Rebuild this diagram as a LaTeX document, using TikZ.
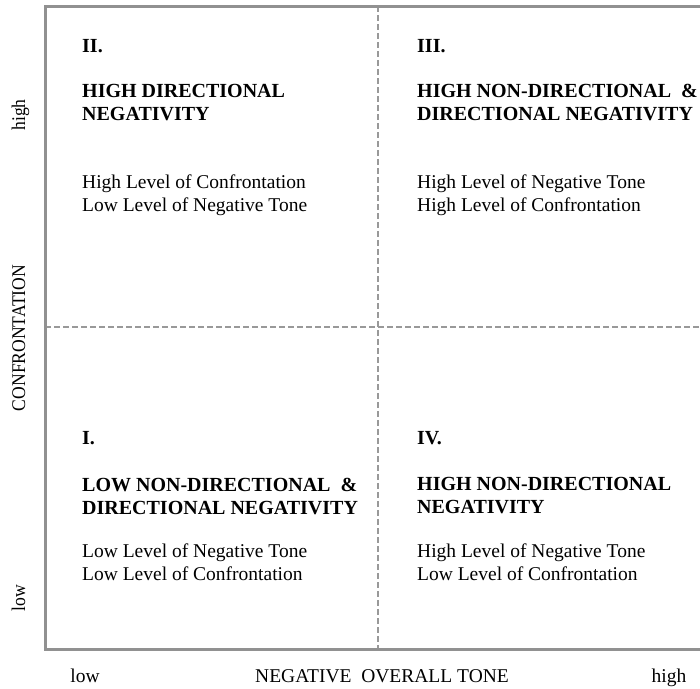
\documentclass[tikz,border=0pt]{standalone}
\usepackage{fontspec}
\setmainfont{Liberation Serif}
\begin{document}
\begin{tikzpicture}[x=1pt,y=-1pt,
  frameline/.style={draw=black!43, line width=3pt},
  gridline/.style={draw=black!40, line width=1.6pt, dash pattern=on 6pt off 3pt},
  num/.style={anchor=base west, inner sep=0pt, font=\fontsize{20}{23}\selectfont\bfseries},
  head/.style={anchor=base west, inner sep=0pt, font=\fontsize{20}{23}\selectfont\bfseries, align=left},
  desc/.style={anchor=base west, inner sep=0pt, font=\fontsize{19.5}{23}\selectfont, align=left},
  axis/.style={anchor=base, inner sep=0pt, font=\fontsize{19.5}{22}\selectfont},
  vaxis/.style={anchor=base, inner sep=0pt, rotate=90, font=\fontsize{17.6}{22}\selectfont}]
\useasboundingbox (0,0) rectangle (700,688);
\coordinate (tl) at (45,6);
\coordinate (tr) at (700,6);
\coordinate (bl) at (45,649);
\coordinate (br) at (700,649);
\coordinate (vt) at (378,6);
\coordinate (vb) at (378,649);
\coordinate (hl) at (45,327);
\coordinate (hr) at (700,327);
\draw[gridline] (vt) -- (vb);
\draw[gridline] (hl) -- (hr);
\draw[frameline] (tr) -- (tl) -- (bl) -- (br);
% quadrant II
\node[num] (n2) at (82,52) {II.};
\node[head] (h2a) at (82,97) {HIGH DIRECTIONAL};
\node[head] (h2b) at (82,120) {NEGATIVITY};
\node[desc] (d2a) at (82,188) {High Level of Confrontation};
\node[desc] (d2b) at (82,211) {Low Level of Negative Tone};
% quadrant III
\node[num] (n3) at (417,52) {III.};
\node[head] (h3a) at (417,97) {HIGH NON-DIRECTIONAL \ \&};
\node[head] (h3b) at (417,120) {DIRECTIONAL NEGATIVITY};
\node[desc] (d3a) at (417,188) {High Level of Negative Tone};
\node[desc] (d3b) at (417,211) {High Level of Confrontation};
% quadrant I
\node[num] (n1) at (82,444) {I.};
\node[head] (h1a) at (82,491) {LOW NON-DIRECTIONAL \ \&};
\node[head] (h1b) at (82,514) {DIRECTIONAL NEGATIVITY};
\node[desc] (d1a) at (82,557) {Low Level of Negative Tone};
\node[desc] (d1b) at (82,580) {Low Level of Confrontation};
% quadrant IV
\node[num] (n4) at (417,444) {IV.};
\node[head] (h4a) at (417,490) {HIGH NON-DIRECTIONAL};
\node[head] (h4b) at (417,513) {NEGATIVITY};
\node[desc] (d4a) at (417,557) {High Level of Negative Tone};
\node[desc] (d4b) at (417,580) {Low Level of Confrontation};
% axes
\node[axis] (xlow) at (85,682) {low};
\node[axis] (xlab) at (382,682) {NEGATIVE\ \ OVERALL TONE};
\node[axis] (xhigh) at (669,682) {high};
\node[vaxis] (yhigh) at (25,115) {\scalebox{1}[1.1]{high}};
\node[vaxis] (ylab) at (25,338) {\scalebox{1}[1.1]{CONFRONTATION}};
\node[vaxis] (ylow) at (25,598) {\scalebox{1}[1.1]{low}};
\end{tikzpicture}
\end{document}
